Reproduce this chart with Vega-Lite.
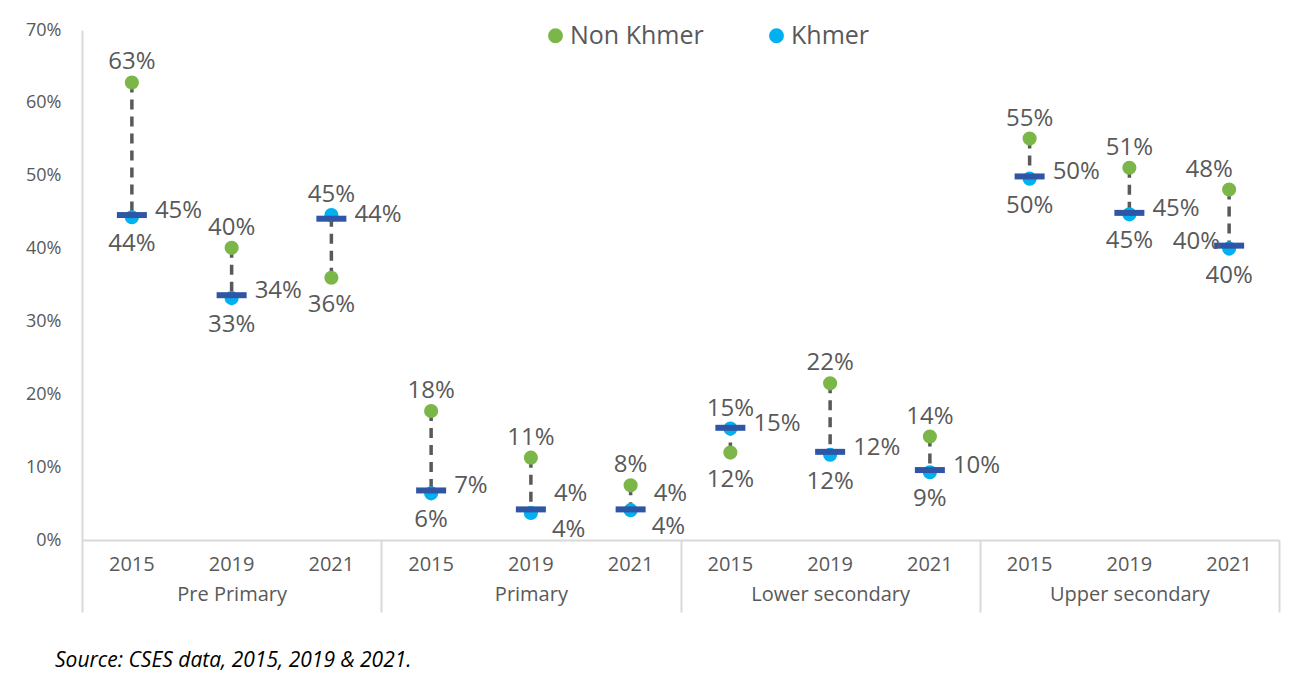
{
  "$schema": "https://vega.github.io/schema/vega-lite/v6.json",
  "width": 1197,
  "height": 510,
  "autosize": {"type": "none"},
  "padding": {"left": 82, "top": 30, "right": 10, "bottom": 146},
  "background": "white",
  "config": {"view": {"stroke": null}, "font": "Open Sans"},
  "title": {"text": "Source: CSES data, 2015, 2019 & 2021.", "orient": "bottom", "anchor": "start", "frame": "group", "fontSize": 21, "fontStyle": "italic", "fontWeight": "normal", "color": "#000000", "offset": 37, "dx": -27, "font": "Open Sans"},
  "data": {"values": [
    {"group": "Pre Primary", "cat": "Pre Primary|2015", "Non Khmer": 0.628, "Khmer": 0.443, "Total": 0.446},
    {"group": "Pre Primary", "cat": "Pre Primary|2019", "Non Khmer": 0.401, "Khmer": 0.332, "Total": 0.336},
    {"group": "Pre Primary", "cat": "Pre Primary|2021", "Non Khmer": 0.360, "Khmer": 0.446, "Total": 0.441},
    {"group": "Primary", "cat": "Primary|2015", "Non Khmer": 0.177, "Khmer": 0.064, "Total": 0.068},
    {"group": "Primary", "cat": "Primary|2019", "Non Khmer": 0.113, "Khmer": 0.037, "Total": 0.042},
    {"group": "Primary", "cat": "Primary|2021", "Non Khmer": 0.075, "Khmer": 0.041, "Total": 0.042},
    {"group": "Lower secondary", "cat": "Lower secondary|2015", "Non Khmer": 0.120, "Khmer": 0.153, "Total": 0.154},
    {"group": "Lower secondary", "cat": "Lower secondary|2019", "Non Khmer": 0.215, "Khmer": 0.117, "Total": 0.121},
    {"group": "Lower secondary", "cat": "Lower secondary|2021", "Non Khmer": 0.142, "Khmer": 0.093, "Total": 0.096},
    {"group": "Upper secondary", "cat": "Upper secondary|2015", "Non Khmer": 0.551, "Khmer": 0.496, "Total": 0.499},
    {"group": "Upper secondary", "cat": "Upper secondary|2019", "Non Khmer": 0.511, "Khmer": 0.447, "Total": 0.449},
    {"group": "Upper secondary", "cat": "Upper secondary|2021", "Non Khmer": 0.481, "Khmer": 0.400, "Total": 0.404}
  ]},
  "layer": [
    {
      "layer": [
        {
          "mark": {"type": "rule", "color": "#595959", "strokeWidth": 3.5, "strokeDash": [10, 7]},
          "encoding": {
            "x": {"field": "cat", "type": "nominal", "sort": null, "scale": {"paddingInner": 0, "paddingOuter": 0},
              "axis": {"orient": "bottom", "title": null, "ticks": false, "domain": true, "domainColor": "#d9d9d9", "domainWidth": 2, "labelPadding": 14, "labelFontSize": 20, "labelColor": "#595959", "labelAngle": 0, "labelExpr": "split(datum.label, '|')[1]"}},
            "y": {"field": "Non Khmer", "type": "quantitative", "scale": {"domain": [0, 0.7], "nice": false},
              "axis": {"title": null, "values": [0, 0.1, 0.2, 0.3, 0.4, 0.5, 0.6, 0.7], "format": ".0%", "ticks": false, "grid": false, "domain": true, "domainColor": "#d9d9d9", "domainWidth": 2, "labelPadding": 21, "labelFontSize": 18, "labelColor": "#595959"}},
            "y2": {"field": "Khmer"}
          }
        },
        {
          "transform": [{"fold": ["Non Khmer", "Khmer"], "as": ["series", "value"]}],
          "mark": {"type": "point", "filled": true, "shape": "circle", "size": 200, "opacity": 1},
          "encoding": {
            "x": {"field": "cat", "type": "nominal", "sort": null},
            "y": {"field": "value", "type": "quantitative"},
            "color": {"field": "series", "type": "nominal", "scale": {"domain": ["Non Khmer", "Khmer"], "range": ["#7AB648", "#00B0F0"]},
              "legend": {"orient": "none", "legendX": 461, "legendY": -7, "direction": "horizontal", "title": null, "labelFontSize": 25, "labelColor": "#595959", "symbolSize": 220, "symbolType": "circle", "labelOffset": 2, "columnPadding": 60, "labelFont": "Open Sans"}}
          }
        },
        {
          "mark": {"type": "tick", "color": "#2F55A5", "size": 30, "thickness": 6, "opacity": 1},
          "encoding": {
            "x": {"field": "cat", "type": "nominal", "sort": null},
            "y": {"field": "Total", "type": "quantitative"}
          }
        },
        {
          "transform": [{"filter": "datum['Non Khmer'] >= datum['Khmer'] && datum.cat !== 'Upper secondary|2021'"}],
          "mark": {"type": "text", "fontSize": 24, "color": "#595959", "dy": -20, "baseline": "middle"},
          "encoding": {
            "x": {"field": "cat", "type": "nominal", "sort": null},
            "y": {"field": "Non Khmer", "type": "quantitative"},
            "text": {"field": "Non Khmer", "type": "quantitative", "format": ".0%"}
          }
        },
        {
          "transform": [{"filter": "datum.cat === 'Upper secondary|2021'"}],
          "mark": {"type": "text", "fontSize": 24, "color": "#595959", "dx": -20, "dy": -20, "baseline": "middle"},
          "encoding": {
            "x": {"field": "cat", "type": "nominal", "sort": null},
            "y": {"field": "Non Khmer", "type": "quantitative"},
            "text": {"field": "Non Khmer", "type": "quantitative", "format": ".0%"}
          }
        },
        {
          "transform": [{"filter": "datum['Non Khmer'] < datum['Khmer']"}],
          "mark": {"type": "text", "fontSize": 24, "color": "#595959", "dy": 27, "baseline": "middle"},
          "encoding": {
            "x": {"field": "cat", "type": "nominal", "sort": null},
            "y": {"field": "Non Khmer", "type": "quantitative"},
            "text": {"field": "Non Khmer", "type": "quantitative", "format": ".0%"}
          }
        },
        {
          "transform": [{"filter": "datum['Khmer'] > datum['Non Khmer']"}],
          "mark": {"type": "text", "fontSize": 24, "color": "#595959", "dy": -20, "baseline": "middle"},
          "encoding": {
            "x": {"field": "cat", "type": "nominal", "sort": null},
            "y": {"field": "Khmer", "type": "quantitative"},
            "text": {"field": "Khmer", "type": "quantitative", "format": ".0%"}
          }
        },
        {
          "transform": [{"filter": "datum['Khmer'] <= datum['Non Khmer'] && datum['Khmer'] >= 0.05"}],
          "mark": {"type": "text", "fontSize": 24, "color": "#595959", "dy": 27, "baseline": "middle"},
          "encoding": {
            "x": {"field": "cat", "type": "nominal", "sort": null},
            "y": {"field": "Khmer", "type": "quantitative"},
            "text": {"field": "Khmer", "type": "quantitative", "format": ".0%"}
          }
        },
        {
          "transform": [{"filter": "datum['Khmer'] < 0.05"}],
          "mark": {"type": "text", "fontSize": 24, "color": "#595959", "dx": 21, "dy": 17, "align": "left", "baseline": "middle"},
          "encoding": {
            "x": {"field": "cat", "type": "nominal", "sort": null},
            "y": {"field": "Khmer", "type": "quantitative"},
            "text": {"field": "Khmer", "type": "quantitative", "format": ".0%"}
          }
        },
        {
          "transform": [{"filter": "datum['Khmer'] >= 0.05 && datum.cat !== 'Upper secondary|2021'"}],
          "mark": {"type": "text", "fontSize": 24, "color": "#595959", "dx": 23, "dy": -4, "align": "left", "baseline": "middle"},
          "encoding": {
            "x": {"field": "cat", "type": "nominal", "sort": null},
            "y": {"field": "Total", "type": "quantitative"},
            "text": {"field": "Total", "type": "quantitative", "format": ".0%"}
          }
        },
        {
          "transform": [{"filter": "datum['Khmer'] < 0.05"}],
          "mark": {"type": "text", "fontSize": 24, "color": "#595959", "dx": 23, "dy": -15, "align": "left", "baseline": "middle"},
          "encoding": {
            "x": {"field": "cat", "type": "nominal", "sort": null},
            "y": {"field": "Total", "type": "quantitative"},
            "text": {"field": "Total", "type": "quantitative", "format": ".0%"}
          }
        },
        {
          "transform": [{"filter": "datum.cat === 'Upper secondary|2021'"}],
          "mark": {"type": "text", "fontSize": 24, "color": "#595959", "dx": -9, "dy": -4, "align": "right", "baseline": "middle"},
          "encoding": {
            "x": {"field": "cat", "type": "nominal", "sort": null},
            "y": {"field": "Total", "type": "quantitative"},
            "text": {"field": "Total", "type": "quantitative", "format": ".0%"}
          }
        }
      ]
    },
    {
      "mark": {"type": "rule", "strokeOpacity": 0},
      "encoding": {
        "x": {"field": "group", "type": "nominal", "sort": null, "scale": {"paddingInner": 0, "paddingOuter": 0},
          "axis": {"orient": "bottom", "title": null, "domain": false, "ticks": true, "tickBand": "extent", "tickSize": 72, "tickColor": "#d9d9d9", "tickWidth": 2, "labelPadding": -28, "labelFontSize": 20, "labelColor": "#595959", "labelAngle": 0}}
      }
    }
  ],
  "resolve": {"scale": {"x": "independent"}, "axis": {"x": "independent"}}
}
